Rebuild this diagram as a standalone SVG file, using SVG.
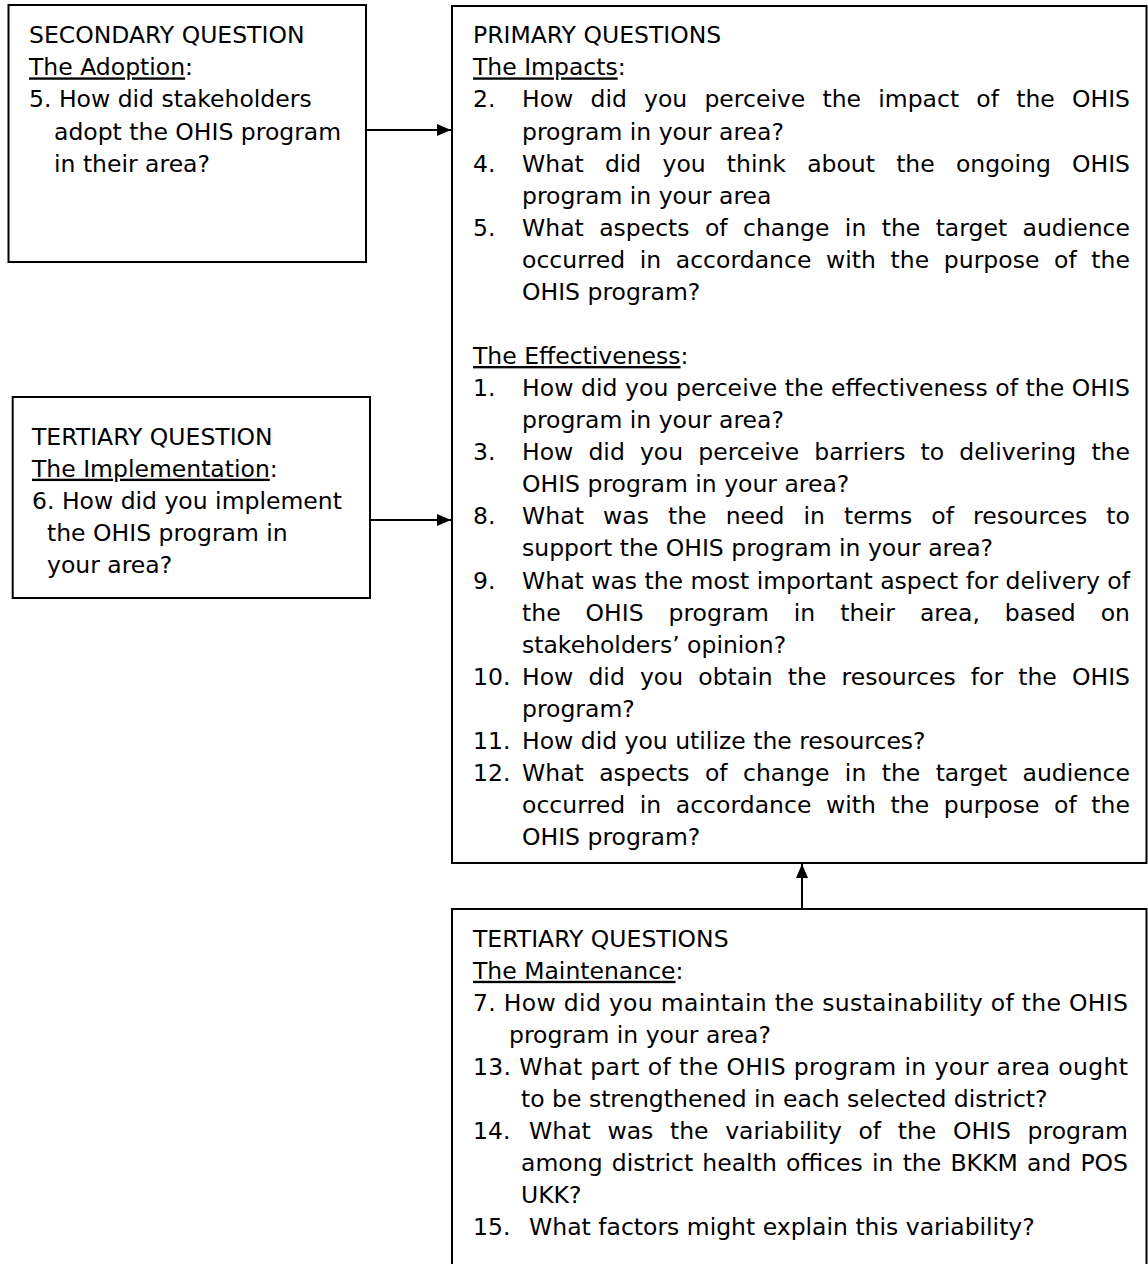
<svg xmlns="http://www.w3.org/2000/svg" width="1148" height="1264" viewBox="0 0 1148 1264">
<style>
text{font-family:"DejaVu Sans","Verdana",sans-serif;font-size:23.5px;fill:#000}
.box{fill:#fff;stroke:#000;stroke-width:2}
.conn{stroke:#000;stroke-width:2;fill:none}
.u{text-decoration:underline}
</style>
<defs>
<marker id="ah" viewBox="0 0 14 12" refX="14" refY="6" markerWidth="14" markerHeight="12" markerUnits="userSpaceOnUse" orient="auto">
<path d="M0,0 L14,6 L0,12 Z" fill="#000"/>
</marker>
</defs>
<rect width="1148" height="1264" fill="#fff"/>
<g id="connectors">
<path class="conn" d="M366,130 H451" marker-end="url(#ah)"/>
<path class="conn" d="M370,520 H451" marker-end="url(#ah)"/>
<path class="conn" d="M802,909 V864" marker-end="url(#ah)"/>
</g>
<g id="secondary">
<rect class="box" x="8.5" y="5" width="357.5" height="257"/>
<text x="29" y="43.3">SECONDARY QUESTION</text>
<text x="29" y="75.4"><tspan class="u">The Adoption</tspan>:</text>
<text x="29" y="107.4">5. How did stakeholders</text>
<text x="54" y="139.5">adopt the OHIS program</text>
<text x="54" y="171.6">in their area?</text>
</g>
<g id="tertiary-implementation">
<rect class="box" x="12.7" y="397" width="357.3" height="201"/>
<text x="32" y="445">TERTIARY QUESTION</text>
<text x="32" y="476.7"><tspan class="u">The Implementation</tspan>:</text>
<text x="32" y="508.5">6. How did you implement</text>
<text x="47" y="540.5">the OHIS program in</text>
<text x="47" y="572.5">your area?</text>
</g>
<g id="primary">
<rect class="box" x="452" y="6" width="694.5" height="857"/>
<text x="473" y="43.3">PRIMARY QUESTIONS</text>
<text x="473" y="75.4"><tspan class="u">The Impacts</tspan>:</text>
<text x="473" y="107.4">2.</text><text x="522" y="107.4" word-spacing="9.7" textLength="608" lengthAdjust="spacing">How did you perceive the impact of the OHIS</text>
<text x="522" y="139.5">program in your area?</text>
<text x="473" y="171.6">4.</text><text x="522" y="171.6" word-spacing="13.7" textLength="608" lengthAdjust="spacing">What did you think about the ongoing OHIS</text>
<text x="522" y="203.7">program in your area</text>
<text x="473" y="235.7">5.</text><text x="522" y="235.7" word-spacing="7.9" textLength="608" lengthAdjust="spacing">What aspects of change in the target audience</text>
<text x="522" y="267.8" word-spacing="7.1" textLength="608" lengthAdjust="spacing">occurred in accordance with the purpose of the</text>
<text x="522" y="299.9">OHIS program?</text>
<text x="473" y="364"><tspan class="u">The Effectiveness</tspan>:</text>
<text x="473" y="396.1">1.</text><text x="522" y="396.1" textLength="608" lengthAdjust="spacing">How did you perceive the effectiveness of the OHIS</text>
<text x="522" y="428.1">program in your area?</text>
<text x="473" y="460.2">3.</text><text x="522" y="460.2" word-spacing="7.6" textLength="608" lengthAdjust="spacing">How did you perceive barriers to delivering the</text>
<text x="522" y="492.3">OHIS program in your area?</text>
<text x="473" y="524.4">8.</text><text x="522" y="524.4" word-spacing="11.5" textLength="608" lengthAdjust="spacing">What was the need in terms of resources to</text>
<text x="522" y="556.4">support the OHIS program in your area?</text>
<text x="473" y="588.5">9.</text><text x="522" y="588.5" textLength="608" lengthAdjust="spacing">What was the most important aspect for delivery of</text>
<text x="522" y="620.6" word-spacing="17.4" textLength="608" lengthAdjust="spacing">the OHIS program in their area, based on</text>
<text x="522" y="652.6">stakeholders’ opinion?</text>
<text x="473" y="684.7">10.</text><text x="522" y="684.7" word-spacing="7.6" textLength="608" lengthAdjust="spacing">How did you obtain the resources for the OHIS</text>
<text x="522" y="716.8">program?</text>
<text x="473" y="748.8">11.</text><text x="522" y="748.8">How did you utilize the resources?</text>
<text x="473" y="780.9">12.</text><text x="522" y="780.9" word-spacing="7.9" textLength="608" lengthAdjust="spacing">What aspects of change in the target audience</text>
<text x="522" y="813" word-spacing="7.1" textLength="608" lengthAdjust="spacing">occurred in accordance with the purpose of the</text>
<text x="522" y="845.1">OHIS program?</text>
</g>
<g id="tertiary-maintenance">
<rect class="box" x="452" y="909" width="694.5" height="400"/>
<text x="473" y="946.7">TERTIARY QUESTIONS</text>
<text x="473" y="978.8"><tspan class="u">The Maintenance</tspan>:</text>
<text x="473" y="1010.8" textLength="655" lengthAdjust="spacing">7. How did you maintain the sustainability of the OHIS</text>
<text x="509" y="1042.9">program in your area?</text>
<text x="473" y="1075" textLength="655" lengthAdjust="spacing">13. What part of the OHIS program in your area ought</text>
<text x="521" y="1107">to be strengthened in each selected district?</text>
<text x="473" y="1139.1">14.</text><text x="529" y="1139.1" word-spacing="9.1" textLength="599" lengthAdjust="spacing">What was the variability of the OHIS program</text>
<text x="521" y="1171.2" word-spacing="1.7" textLength="607" lengthAdjust="spacing">among district health offices in the BKKM and POS</text>
<text x="521" y="1203.3">UKK?</text>
<text x="473" y="1235.3">15.</text><text x="529" y="1235.3">What factors might explain this variability?</text>
</g>
</svg>
